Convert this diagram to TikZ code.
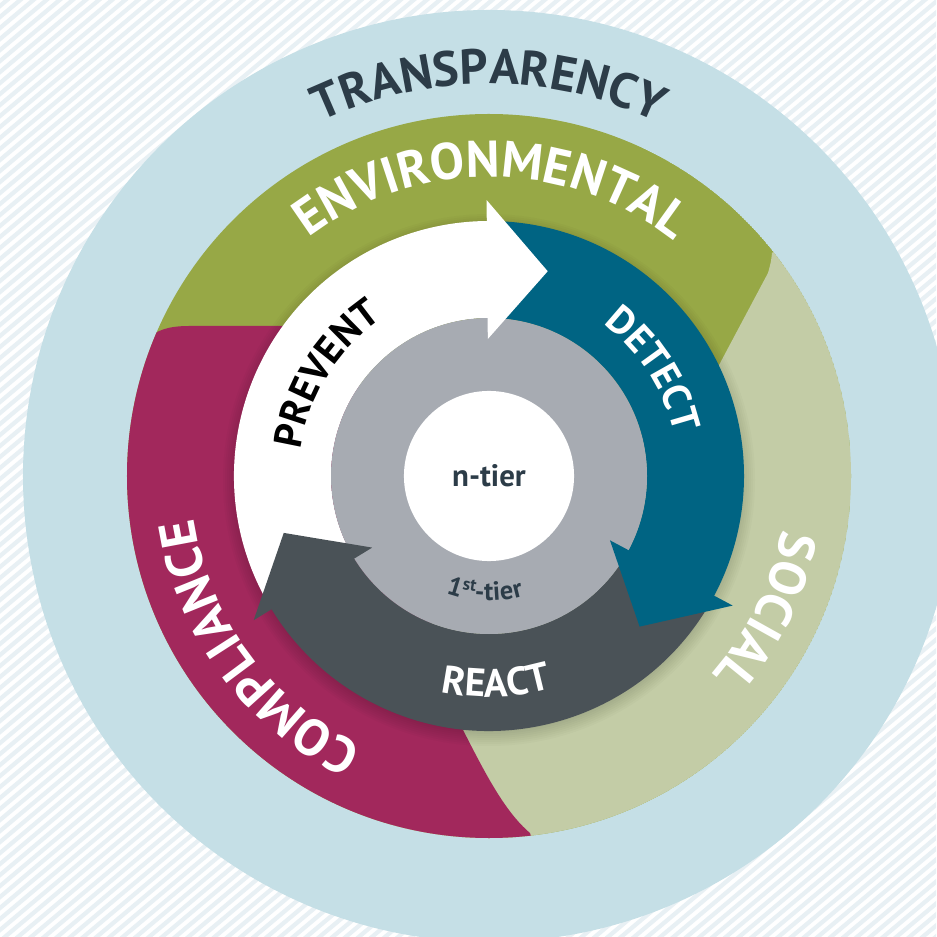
\documentclass[tikz,border=0pt]{standalone}
\usepackage{fontspec}
\newfontfamily\ringfont{PT Sans}
\usetikzlibrary{decorations.text}
\definecolor{ringblue}{HTML}{C5DFE6}
\definecolor{stripeblue}{HTML}{E8F0F4}
\definecolor{envgreen}{HTML}{97A846}
\definecolor{socialsage}{HTML}{C3CCA6}
\definecolor{complmagenta}{HTML}{A2285C}
\definecolor{detectblue}{HTML}{006483}
\definecolor{reactgray}{HTML}{4A5257}
\definecolor{tiergray}{HTML}{A7ABB2}
\definecolor{slate}{HTML}{2C3C48}
\newcommand{\outerfont}{\ringfont\bfseries\fontsize{14}{16}\selectfont\color{slate}}
\newcommand{\bandfont}{\ringfont\bfseries\fontsize{14.6}{18}\selectfont\color{white}}
\newcommand{\cyclefont}{\ringfont\bfseries\fontsize{11.2}{13}\selectfont}
\newcommand{\arrowbody}[3]{\fill[#1] (#2:255) arc[start angle=#2, end angle=#3, radius=255] -- (#3:158) arc[start angle=#3, end angle=#2, radius=158] -- cycle;}
\newcommand{\arrowhead}[3]{\fill[#1] (#2:137) -- (#2:276) -- (#3:213) -- cycle;}

\begin{document}
\begin{tikzpicture}[x=0.01cm,y=0.01cm]
\tikzstyle{stripe}=[draw=stripeblue, line width=1.2pt]
\tikzstyle{shade}=[fill=black, opacity=0.02]
\tikzstyle{band}=[decorate, decoration={text along path, text align=center}]
\tikzstyle{tiertext}=[font=\ringfont\bfseries\fontsize{7.5}{9}\selectfont, text=slate, inner sep=0, anchor=base]

  \useasboundingbox (-489,-461) rectangle (447,476);

  \begin{scope}
    \clip (-489,-461) rectangle (447,476);
    \fill[white] (-489,-461) rectangle (447,476);
    \foreach \k in {-80,...,82}
      \draw[stripe] (-520,{\k*11-436}) -- (480,{\k*11+403});
  \end{scope}

  \fill[ringblue] (0,0) circle[radius=466];

  \begin{scope}
    \clip (0,0) circle[radius=362];
    \fill[envgreen] (0,0) circle[radius=362];
    \fill[socialsage] (330,262) -- (283,223) .. controls (282,214) .. (279,203) -- (229,109) -- (-60,-150) -- (-120,-420) -- (420,-420) -- (420,262) -- cycle;
    \fill[complmagenta] (-150,150) -- (-300,150) .. controls (-322,150) and (-333,145) .. (-340,138) -- (-420,138) -- (-420,-420) -- (60,-420) -- (41,-357) .. controls (15,-335) and (-5,-295) .. (-28,-250) -- (-100,0) -- cycle;
  \end{scope}

  \foreach \i in {0,...,7}
    \fill[shade] (0,-4) circle[radius=252+2*\i];

  \arrowbody{white}{208}{89}
  \arrowbody{detectblue}{88}{-29.5}
  \arrowbody{reactgray}{-30}{-150}

  \fill[tiergray] (0,0) circle[radius=158];
  \node[circle, fill=white, minimum size=1.7cm, inner sep=0, text=slate, font=\ringfont\bfseries\fontsize{8.8}{10}\selectfont] (ntier) at (0,0) {n-tier};

  \arrowhead{white}{90.5}{74}
  \arrowhead{detectblue}{-28}{-45}
  \arrowhead{reactgray}{211.5}{195.5}

  \path[band, decoration={text={|\outerfont|TRANSPARENCY}}] (150:392) arc[start angle=150, end angle=30, radius=392];
  \path[band, decoration={text={|\bandfont|ENVIRONMENTAL}}] (160:299) arc[start angle=160, end angle=19, radius=299];
  \path[band, decoration={text={|\bandfont|SOCIAL}}] (24:298) arc[start angle=24, end angle=-76, radius=298];
  \path[band, decoration={text={|\bandfont|COMPLIANCE}}] (276.5:298) arc[start angle=276.5, end angle=156.5, radius=298];

  \path[band, decoration={text={|\cyclefont\color{black}|PREVENT}}] (198:190) arc[start angle=198, end angle=98, radius=190];
  \path[band, decoration={text={|\cyclefont\color{white}|DETECT}}] (83:190) arc[start angle=83, end angle=-17, radius=190];
  \path[band, decoration={text={|\cyclefont\color{white}|REACT}}] (-138:221) arc[start angle=-138, end angle=-38, radius=221];

  \foreach \ch/\ang [count=\n] in {1/-106.9,-/-94.5,t/-90.1,i/-86.2,e/-81.4,r/-75.9}
    \node[tiertext, rotate=\ang+90] (tier\n) at (\ang:125) {\ch};
  \node[tiertext, font=\ringfont\bfseries\fontsize{5}{6}\selectfont, rotate=-10] (tiersup) at (-100:116) {st};

\end{tikzpicture}
\end{document}
